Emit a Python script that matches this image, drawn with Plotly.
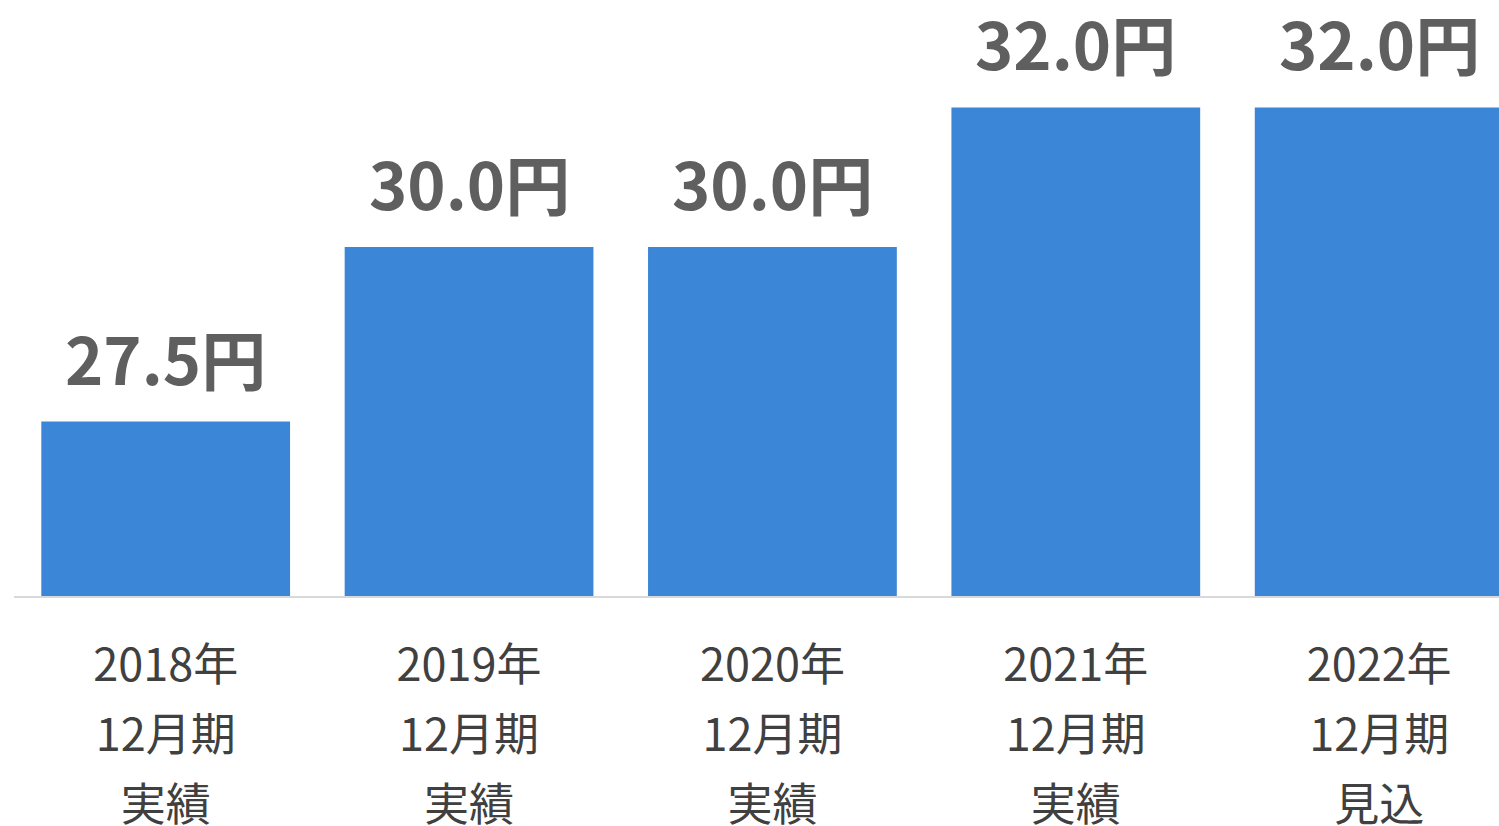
import plotly.graph_objects as go

years = ["2018年", "2019年", "2020年", "2021年", "2022年"]
periods = ["12月期", "12月期", "12月期", "12月期", "12月期"]
kinds = ["実績", "実績", "実績", "実績", "見込"]
values = [27.5, 30.0, 30.0, 32.0, 32.0]
value_labels = ["27.5円", "30.0円", "30.0円", "32.0円", "32.0円"]

cats = list(range(len(values)))
tick_text = [
    "<br>".join(f"<span style='font-size:45px'>{s}</span>" for s in (y, p, k))
    for y, p, k in zip(years, periods, kinds)
]

BAR = "rgb(59,134,214)"
LABEL = "#5f5f5f"
TICK = "#404040"
FONT = "Noto Sans CJK JP"

fig = go.Figure()
fig.add_trace(go.Bar(
    x=cats, y=values,
    marker=dict(color=BAR, line=dict(width=0)),
    hoverinfo="skip",
))

for c, v, t in zip(cats, values, value_labels):
    fig.add_annotation(
        x=c, y=v, xref="x", yref="y", text=t, showarrow=False,
        yanchor="bottom", yshift=16,
        font=dict(family=FONT, size=65, color=LABEL, weight="bold"),
    )

fig.update_layout(
    width=1499, height=826,
    margin=dict(l=14, r=0, t=0, b=230),
    paper_bgcolor="white", plot_bgcolor="white",
    bargap=0.18,
    showlegend=False,
    font=dict(family=FONT),
    xaxis=dict(
        tickmode="array", tickvals=cats, ticktext=tick_text,
        range=[-0.5, 4.395],
        showline=True, linecolor="#d9d9d9", linewidth=1.5,
        showgrid=False, zeroline=False, ticks="",
        tickfont=dict(family=FONT, size=54, color=TICK),
        ticklabelstandoff=18,
        automargin=False,
    ),
    yaxis=dict(
        range=[25, 33.54], visible=False, showgrid=False, zeroline=False,
        automargin=False,
    ),
)

fig.write_html(
    "out.html",
    config={"displayModeBar": False},
    post_script="document.body.style.margin='0';document.body.style.overflow='hidden';",
)
